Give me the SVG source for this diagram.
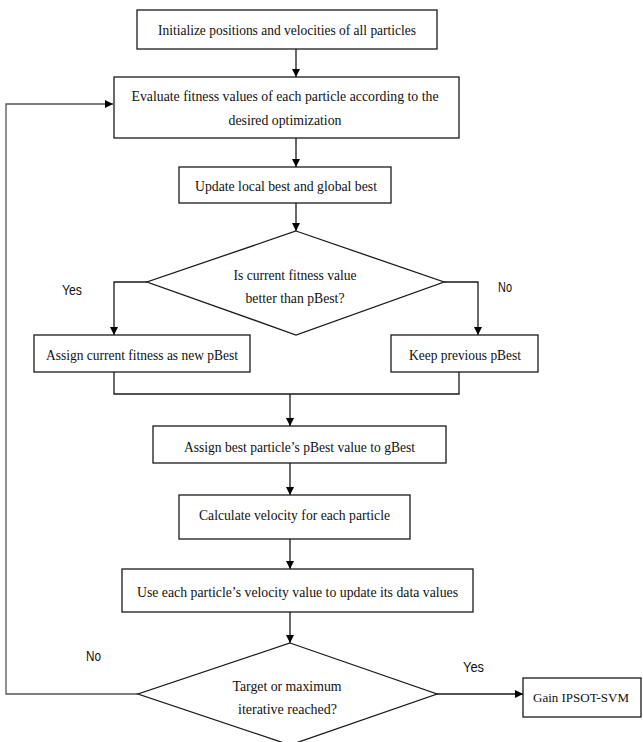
<svg xmlns="http://www.w3.org/2000/svg" width="643" height="742" viewBox="0 0 643 742">
<style>
.box{fill:#fff;stroke:#1a1a1a;stroke-width:1.3}
.t{font-family:"Liberation Serif",serif;font-size:15.5px;fill:#111;text-anchor:middle}
.lbl{font-family:"Liberation Sans",Arial,sans-serif;font-size:14px;fill:#111;text-anchor:middle}
.c{fill:none;stroke:#1a1a1a;stroke-width:1.3}
.loop{fill:none;stroke:#555;stroke-width:1.3}
</style>
<defs>
<marker id="ah" viewBox="0 0 10 10" refX="10" refY="5" markerWidth="8" markerHeight="8" markerUnits="userSpaceOnUse" orient="auto">
<path d="M0,0 L10,5 L0,10 z" fill="#000"/>
</marker>
</defs>
<rect width="643" height="742" fill="#fff"/>
<g id="connectors">
<line class="c" x1="296" y1="49" x2="296" y2="77" marker-end="url(#ah)"/>
<line class="c" x1="296" y1="138" x2="296" y2="167" marker-end="url(#ah)"/>
<line class="c" x1="296" y1="203" x2="296" y2="231" marker-end="url(#ah)"/>
<polyline class="c" points="147,282 114,282 114,335" marker-end="url(#ah)"/>
<polyline class="c" points="444,282 478,282 478,335" marker-end="url(#ah)"/>
<polyline class="c" points="114,372 114,394 459,394 459,372"/>
<line class="c" x1="290" y1="394" x2="290" y2="426" marker-end="url(#ah)"/>
<line class="c" x1="290" y1="463" x2="290" y2="495" marker-end="url(#ah)"/>
<line class="c" x1="290" y1="539" x2="290" y2="569" marker-end="url(#ah)"/>
<line class="c" x1="290" y1="612" x2="290" y2="643" marker-end="url(#ah)"/>
<line class="c" x1="437" y1="694" x2="523" y2="694" marker-end="url(#ah)"/>
<polyline class="loop" points="138,694 6,694 6,104 113,104" marker-end="url(#ah)"/>
</g>
<g id="n1"><rect class="box" x="137" y="10" width="300" height="39"/><text class="t" x="287" y="35" textLength="258" lengthAdjust="spacingAndGlyphs">Initialize positions and velocities of all particles</text></g>
<g id="n2"><rect class="box" x="114" y="77" width="345" height="61"/><text class="t" x="285" y="101" textLength="307" lengthAdjust="spacingAndGlyphs">Evaluate fitness values of each particle according to the</text><text class="t" x="285" y="125" textLength="113" lengthAdjust="spacingAndGlyphs">desired optimization</text></g>
<g id="n3"><rect class="box" x="179" y="167" width="212" height="36"/><text class="t" x="286" y="191" textLength="182" lengthAdjust="spacingAndGlyphs">Update local best and global best</text></g>
<g id="d1"><polygon class="box" points="296,231 444,282 296,335 147,282"/><text class="t" x="295" y="280" textLength="123" lengthAdjust="spacingAndGlyphs">Is current fitness value</text><text class="t" x="295" y="303" textLength="99" lengthAdjust="spacingAndGlyphs">better than pBest?</text></g>
<g id="lblYes1"><text class="lbl" x="72" y="295" textLength="20" lengthAdjust="spacingAndGlyphs">Yes</text></g>
<g id="lblNo1"><text class="lbl" x="505" y="292" textLength="14" lengthAdjust="spacingAndGlyphs">No</text></g>
<g id="n4"><rect class="box" x="34" y="335" width="216" height="37"/><text class="t" x="142" y="360" textLength="192" lengthAdjust="spacingAndGlyphs">Assign current fitness as new pBest</text></g>
<g id="n5"><rect class="box" x="391" y="335" width="147" height="37"/><text class="t" x="465" y="360" textLength="112" lengthAdjust="spacingAndGlyphs">Keep previous pBest</text></g>
<g id="n6"><rect class="box" x="153" y="426" width="293" height="37"/><text class="t" x="299.5" y="452" textLength="231" lengthAdjust="spacingAndGlyphs">Assign best particle’s pBest value to gBest</text></g>
<g id="n7"><rect class="box" x="179" y="495" width="231" height="44"/><text class="t" x="294.5" y="520" textLength="191" lengthAdjust="spacingAndGlyphs">Calculate velocity for each particle</text></g>
<g id="n8"><rect class="box" x="122" y="569" width="351" height="43"/><text class="t" x="297.5" y="597" textLength="321" lengthAdjust="spacingAndGlyphs">Use each particle’s velocity value to update its data values</text></g>
<g id="d2"><polygon class="box" points="290,643 437,694 290,745 138,694"/><text class="t" x="287" y="691" textLength="109" lengthAdjust="spacingAndGlyphs">Target or maximum</text><text class="t" x="287.5" y="714" textLength="99" lengthAdjust="spacingAndGlyphs">iterative reached?</text></g>
<g id="lblNo2"><text class="lbl" x="93.5" y="661" textLength="15" lengthAdjust="spacingAndGlyphs">No</text></g>
<g id="lblYes2"><text class="lbl" x="473.5" y="672" textLength="21" lengthAdjust="spacingAndGlyphs">Yes</text></g>
<g id="n9"><rect class="box" x="523" y="678" width="118" height="39"/><text class="t" x="581" y="702" style="font-size:13px">Gain IPSOT-SVM</text></g>
</svg>
